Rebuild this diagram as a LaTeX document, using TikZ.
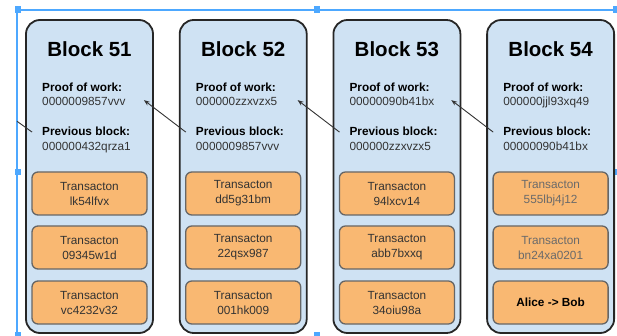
\documentclass[tikz,border=0pt]{standalone}
\usepackage{fontspec}
\setmainfont{Liberation Sans}
\usetikzlibrary{arrows.meta}
\definecolor{blockfill}{HTML}{CFE2F3}
\definecolor{txfill}{HTML}{F9B872}
\definecolor{selblue}{HTML}{4DA8FF}
\definecolor{valgray}{HTML}{333333}
\definecolor{fadegray}{HTML}{6A6A6A}

\begin{document}
\begin{tikzpicture}[x=1pt,y=-1pt,
  blockbox/.style={draw=black!85, line width=1.8pt, fill=blockfill,
    rounded corners=14pt, minimum width=127pt, minimum height=313pt, inner sep=0pt},
  blocktitle/.style={font=\bfseries\fontsize{20.5}{24}\selectfont, anchor=base, inner sep=0pt},
  fieldlabel/.style={font=\bfseries\fontsize{11.8}{14}\selectfont, anchor=base west, inner sep=0pt},
  fieldvalue/.style={font=\fontsize{11.8}{14}\selectfont, text=valgray, anchor=base west, inner sep=0pt},
  txbox/.style={draw=black!60, line width=1.3pt, fill=txfill, rounded corners=6pt,
    minimum width=115pt, minimum height=43pt, inner sep=0pt, align=center,
    font=\fontsize{11.8}{15}\selectfont},
  link/.style={draw=black!80, line width=0.9pt, -{Stealth[length=6pt,width=4.5pt]}},
  linkline/.style={draw=black!80, line width=0.9pt},
  selline/.style={draw=selblue, line width=1.7pt},
  handle/.style={fill=selblue, draw=none}
]
\useasboundingbox (0,0) rectangle (617,336);

% selection frame
\draw[selline] (617,9.7) -- (17,9.7) -- (17,336);
\foreach \hx/\hy in {18/9.5, 317/9.5, 616/9.5, 18/172, 616/172, 317/335, 18/335}
  \fill[handle] (\hx-3,\hy-3.2) rectangle (\hx+3,\hy+3.2);

% blocks
\foreach \cx/\n/\pw/\pv/\ta/\tb/\tcol in {
  89.5/51/0000009857vvv/000000432qrza1/lk54lfvx/09345w1d/valgray,
  243.2/52/000000zzxvzx5/0000009857vvv/dd5g31bm/22qsx987/valgray,
  396.9/53/00000090b41bx/000000zzxvzx5/94lxcv14/abb7bxxq/valgray,
  550.6/54/000000jjl93xq49/00000090b41bx/555lbj4j12/bn24xa0201/fadegray}
{
  \node[blockbox] (b\n) at (\cx,176.5) {};
  \node[blocktitle] (title\n) at (\cx,57) {Block \n};
  \node[fieldlabel] (pow\n) at (\cx-47.5,91.7) {Proof of work:};
  \node[fieldvalue] (powv\n) at (\cx-47.5,106) {\pw};
  \node[fieldlabel] (prev\n) at (\cx-47.5,136) {Previous block:};
  \node[fieldvalue] (prevv\n) at (\cx-47.5,150.3) {\pv};
  \node[txbox, text=\tcol] (tx\n a) at (\cx,193.5) {Transacton\\\ta};
  \node[txbox, text=\tcol] (tx\n b) at (\cx,247.5) {Transacton\\\tb};
}
\node[txbox, text=valgray] (tx51c) at (89.5,302.5) {Transacton\\vc4232v32};
\node[txbox, text=valgray] (tx52c) at (243.2,302.5) {Transacton\\001hk009};
\node[txbox, text=valgray] (tx53c) at (396.9,302.5) {Transacton\\34oiu98a};
\node[txbox, text=black, font=\bfseries\fontsize{11.8}{15}\selectfont] (tx54c) at (550.6,302.5) {Alice -> Bob};

% hash links: previous-block field points back to the proof of work of the block before
\foreach \a/\b in {51/52, 52/53, 53/54}
  \draw[link] ([shift={(7pt,-113pt)}]b\b.north west) -- ([shift={(-10pt,-81pt)}]b\a.north east);
\coordinate (offleft) at (17,121.3);
\draw[linkline] ([shift={(7pt,-113pt)}]b51.north west) -- (offleft);
\end{tikzpicture}
\end{document}
